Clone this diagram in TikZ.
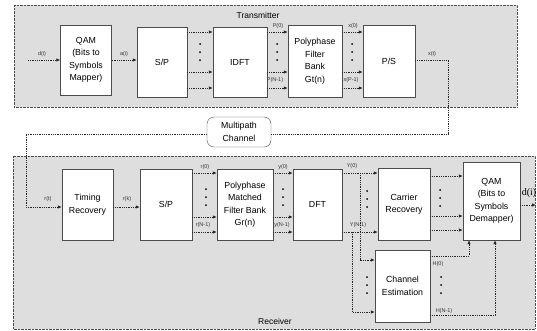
\documentclass[tikz,border=0pt]{standalone}
\usepackage{fontspec}
\setmainfont{Liberation Sans}
\newfontfamily\serifout{Liberation Serif}
\usetikzlibrary{arrows.meta}
\begin{document}
\begin{tikzpicture}[x=1pt,y=-1pt,
  band/.style={draw=gray!60!black, densely dotted, fill=gray!26},
  blk/.style={draw=gray!60!black, fill=white, align=center, inner sep=0pt, font=\fontsize{8.8}{12.5}\selectfont},
  conn/.style={draw=gray!30!black, densely dotted, thick, -{Latex[length=4pt,width=3.5pt]}},
  wire/.style={draw=gray!30!black, densely dotted, thick},
  sig/.style={font=\fontsize{5.5}{6}\selectfont, inner sep=0.5pt, text=gray!40!black},
  bdot/.style={circle, fill=black, inner sep=0pt, minimum size=2pt},
  bandlbl/.style={font=\fontsize{8.5}{10}\selectfont, inner sep=0pt}]
\useasboundingbox (0,0) rectangle (537,330);
\fill[white] (0,0) rectangle (537,330);
% bands
\path[band] (14,5) rectangle (517,107);
\path[band] (13,156) rectangle (535,329);
\node[bandlbl] (txl) at (258,15) {Transmitter};
\node[bandlbl] (rxl) at (275,321) {Receiver};
% transmitter blocks
\node[blk, minimum width=51pt, minimum height=70pt] (qam) at (86,60) {QAM\\(Bits to\\Symbols\\Mapper)};
\node[blk, minimum width=50pt, minimum height=70pt] (spa) at (162,62) {S/P};
\node[blk, minimum width=54pt, minimum height=70pt] (idft) at (240,62) {IDFT};
\node[blk, minimum width=54pt, minimum height=72pt] (pfb) at (315,61) {Polyphase\\Filter\\Bank\\Gt(n)};
\node[blk, minimum width=52pt, minimum height=72pt] (ps) at (389,61) {P/S};
% channel
\node[blk, rounded corners=7pt, minimum width=64pt, minimum height=30pt] (chan) at (239,132) {Multipath\\Channel};
% receiver blocks
\node[blk, minimum width=51pt, minimum height=71pt] (tr) at (87.5,204.5) {Timing\\Recovery};
\node[blk, minimum width=52pt, minimum height=71pt] (spb) at (166,204.5) {S/P};
\node[blk, minimum width=56pt, minimum height=71pt] (pmfb) at (245,204.5) {Polyphase\\Matched\\Filter Bank\\Gr(n)};
\node[blk, minimum width=49pt, minimum height=71pt] (dft) at (317.5,204.5) {DFT};
\node[blk, minimum width=52pt, minimum height=72pt] (cr) at (404,204) {Carrier\\Recovery};
\node[blk, minimum width=57pt, minimum height=78pt] (qamr) at (491.5,201) {QAM\\(Bits to\\Symbols\\Demapper)};
\node[blk, minimum width=55pt, minimum height=72pt] (ce) at (402.5,286) {Channel\\Estimation};
% transmitter connections
\coordinate (din) at (28,60);
\draw[conn] (din) -- (qam.west |- din);
\node[sig] (ldi) at (42,54) {d(i)};
\draw[conn] (qam.east |- 0,60) -- (spa.west |- 0,60);
\node[sig] (lai) at (124,54) {a(i)};
\foreach \yy in {32,72,88} {
  \draw[conn] (spa.east |- 0,\yy) -- (idft.west |- 0,\yy);
  \draw[conn] (idft.east |- 0,\yy) -- (pfb.west |- 0,\yy);
  \draw[conn] (pfb.east |- 0,\yy) -- (ps.west |- 0,\yy);
}
\foreach \xx in {200,277,352} {
  \foreach \yy in {44,52,60} { \node[bdot] at (\xx,\yy) {}; }
}
\node[sig] (lp0) at (278,26) {P(0)};
\node[sig] (lpn) at (275,80) {P(N-1)};
\node[sig] (lx0) at (353,26) {x(0)};
\node[sig] (lxp) at (351,80) {x(P-1)};
% channel path
\coordinate (c1) at (448,60);
\coordinate (c2) at (448,134);
\draw[wire] (ps.east |- c1) -- (c1) -- (c2) -- (chan.east |- c2);
\node[sig] (lxt) at (432,54) {x(t)};
\coordinate (c3) at (26,134);
\coordinate (c4) at (26,207);
\draw[conn] (chan.west |- c3) -- (c3) -- (c4) -- (tr.west |- c4);
\node[sig] (lrt) at (48,199) {r(t)};
% receiver connections
\draw[conn] (tr.east |- 0,207) -- (spb.west |- 0,207);
\node[sig] (lrk) at (127,199) {r(k)};
\foreach \yy in {173,217,232} {
  \draw[conn] (spb.east |- 0,\yy) -- (pmfb.west |- 0,\yy);
  \draw[conn] (pmfb.east |- 0,\yy) -- (dft.west |- 0,\yy);
}
\foreach \xx in {206,283} {
  \foreach \yy in {189,197,205} { \node[bdot] at (\xx,\yy) {}; }
}
\node[sig] (lr0) at (205,167) {r(0)};
\node[sig] (lrn) at (203,225) {r(N-1)};
\node[sig] (ly0) at (283,167) {y(0)};
\node[sig] (lyn) at (282,225) {y(N-1)};
% DFT outputs
\coordinate (j1) at (360,173);
\coordinate (j1b) at (360,260);
\draw[conn] (dft.east |- j1) -- (cr.west |- j1);
\draw[conn] (j1) -- (j1b) -- (ce.west |- j1b);
\coordinate (j2) at (352,232);
\coordinate (j2b) at (352,312);
\draw[conn] (dft.east |- j2) -- (cr.west |- j2);
\draw[conn] (j2) -- (j2b) -- (ce.west |- j2b);
\node[sig] (lY0) at (352,166) {Y(0)};
\node[sig] (lYn) at (358,225) {Y(N-1)};
\foreach \yy in {191,199,207} { \node[bdot] at (367,\yy) {}; }
\foreach \yy in {277,285,293} { \node[bdot] at (367,\yy) {}; }
% carrier -> QAM
\foreach \yy in {176,216,230} {
  \draw[conn] (cr.east |- 0,\yy) -- (qamr.west |- 0,\yy);
}
\foreach \yy in {190,198,206} { \node[bdot] at (440,\yy) {}; }
% channel estimation -> QAM
\coordinate (h1) at (469,256);
\draw[conn] (ce.east |- h1) -- (h1) -- (h1 |- qamr.south);
\coordinate (h2) at (495,315);
\draw[conn] (ce.east |- h2) -- (h2) -- (h2 |- qamr.south);
\node[sig] (lh0) at (438,264) {H(0)};
\node[sig] (lhn) at (444,311) {H(N-1)};
\foreach \yy in {277,285,293} { \node[bdot] at (441,\yy) {}; }
% output
\coordinate (dout) at (536,205);
\draw[conn] (qamr.east |- dout) -- (dout);
\node[font=\serifout\fontsize{10}{12}\selectfont, inner sep=0pt] (ldo) at (529,193) {d(i)};
\end{tikzpicture}
\end{document}
